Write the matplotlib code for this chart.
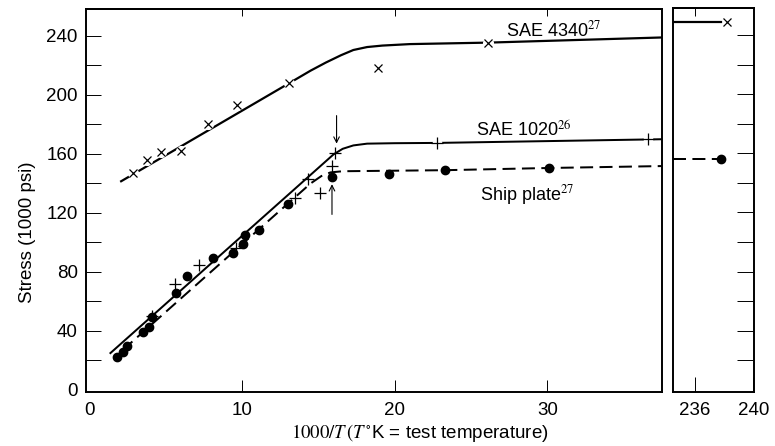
import matplotlib
matplotlib.use("Agg")
import matplotlib.pyplot as plt
from matplotlib.ticker import MultipleLocator

plt.rcParams['font.family'] = ['Liberation Sans', 'DejaVu Sans']
plt.rcParams['mathtext.fontset'] = 'stix'

# ---------------- data ----------------
# SAE 4340 (x markers) and its fitted curve
sae4340_x = [2.9, 3.8, 4.7, 6.0, 7.8, 9.7, 13.1, 18.9, 26.1]
sae4340_y = [147, 156, 161, 162, 180, 193, 208, 218, 235]
sae4340_curve_x = [2.1, 13.1, 14.5, 15.5, 16.5, 17.3, 18.2, 19.2, 21.0, 26.1, 37.5]
sae4340_curve_y = [141.5, 208, 216.5, 222, 227, 230.5, 232.5, 233.5, 234.5, 235.5, 239]

# SAE 1020 (+ markers) and its fitted curve
sae1020_x = [4.1, 5.6, 7.2, 9.6, 13.5, 14.3, 15.1, 15.9, 16.1, 22.8, 36.6]
sae1020_y = [50, 72, 85, 96, 130, 143, 133.5, 152, 160.7, 167.5, 170]
sae1020_curve_x = [1.4, 16.0, 16.6, 17.3, 18.2, 20.0, 22.8, 37.5]
sae1020_curve_y = [25, 159.7, 163.5, 165.8, 167, 167.3, 167.5, 170]

# Ship plate (filled circles) and its fitted curve
ship_x = [1.8, 2.2, 2.5, 3.5, 3.9, 4.1, 5.7, 6.4, 8.1, 9.4, 10.1, 10.2, 11.1,
          13.0, 15.9, 19.6, 23.3, 30.1]
ship_y = [22, 26, 30, 39, 43, 49.5, 66, 77, 89.5, 93, 99, 105, 108.5,
          126, 144.4, 146.4, 149, 150.5]
ship_curve_x = [2.2, 14.5, 15.2, 15.8, 16.6, 23.3, 30.1, 37.5]
ship_curve_y = [27, 140, 145, 147.5, 148.3, 149, 150.5, 151.8]

# Values plotted on the broken-off axis (1000/T near 238)
far_4340_x, far_4340_y = [238.2], [249]
far_4340_line_x = [234.5, 237.8]
far_ship_x, far_ship_y = [237.8], [156]
far_ship_line_x = [234.5, 237.8]

# Arrows marking the knee (x, y_from, y_to)
arrow_down = (16.2, 186, 167)
arrow_up = (15.9, 119, 139.5)

x_ticks_main = [0, 10, 20, 30]
x_ticks_far = [236, 240]
y_ticks = [0, 40, 80, 120, 160, 200, 240]

# ---------------- figure ----------------
W, H = 775, 446
fig = plt.figure(figsize=(W / 100, H / 100), dpi=100)
ax = fig.add_axes([86 / W, 1 - 392 / H, (662 - 86) / W, (392 - 9) / H])
ax2 = fig.add_axes([673 / W, 1 - 392 / H, (754 - 673) / W, (392 - 8) / H])

ax.set_xlim(-0.2, 37.5)
ax.set_ylim(-1.4, 258.3)
ax2.set_xlim(234.5, 240.05)
ax2.set_ylim(-1.4, 258.3)

dash = (0, (6.5, 3.2))
lw = 1.6

# SAE 4340
ax.plot(sae4340_curve_x, sae4340_curve_y, color='k', lw=lw, zorder=2)
ax.plot(sae4340_x, sae4340_y, 'o', ms=8, color='white', mec='none', zorder=3)
ax.plot(sae4340_x, sae4340_y, 'x', ms=6, mew=0.9, color='k', zorder=4)

# SAE 1020
ax.plot(sae1020_curve_x, sae1020_curve_y, color='k', lw=lw * 0.9, zorder=2)
ax.plot(sae1020_x[-2:], sae1020_y[-2:], 'o', ms=7, color='white', mec='none', zorder=3)
ax.plot(sae1020_x, sae1020_y, '+', ms=8, mew=0.9, color='k', zorder=4)

# Ship plate
ax.plot(ship_curve_x, ship_curve_y, color='k', lw=lw * 0.9, ls=dash, zorder=2)
ax.plot(ship_x, ship_y, 'o', ms=6, color='k', zorder=4)

# Arrows
for (xa, y0, y1) in (arrow_down, arrow_up):
    ax.annotate('', xy=(xa, y1), xytext=(xa, y0),
                arrowprops=dict(arrowstyle='->', lw=0.8, color='k',
                                shrinkA=0, shrinkB=0, mutation_scale=10))

# labels on curves
ax.text(27.3, 244, r'SAE 4340$^{27}$', fontsize=13, va='center', ha='left')
ax.text(25.3, 176, r'SAE 1020$^{26}$', fontsize=13, va='center', ha='left')
ax.text(25.6, 132, r'Ship plate$^{27}$', fontsize=13, va='center', ha='left')

# far panel
ax2.plot(far_4340_line_x, [far_4340_y[0]] * 2, color='k', lw=lw)
ax2.plot(far_4340_x, far_4340_y, 'x', ms=6, mew=0.9, color='k')
ax2.plot(far_ship_line_x, [far_ship_y[0]] * 2, color='k', lw=lw * 0.9, ls=dash)
ax2.plot(far_ship_x, far_ship_y, 'o', ms=6, color='k')

# ---------------- axes styling ----------------
for a in (ax, ax2):
    for s in a.spines.values():
        s.set_linewidth(1.4)

ax.set_xticks(x_ticks_main)
ax.set_yticks(y_ticks)
ax.yaxis.set_minor_locator(MultipleLocator(20))
ax.tick_params(axis='y', which='both', direction='in', length=11, width=0.7,
               labelsize=13.5, pad=6, right=False)
ax.tick_params(axis='x', which='both', direction='in', length=9, width=0.7,
               labelsize=13.5, pad=7, top=False)
ax.xaxis.get_major_ticks()[0].tick1line.set_visible(False)
ax.yaxis.get_major_ticks()[0].tick1line.set_visible(False)
top = ax.secondary_xaxis('top')
top.set_xticks([10, 20, 30])
top.tick_params(direction='in', length=5, width=0.7, labeltop=False)
top.spines['top'].set_linewidth(1.4)

ax2.set_xticks(x_ticks_far)
ax2.set_yticks(list(range(20, 241, 20)))
ax2.tick_params(axis='y', direction='in', length=12, width=0.7,
                left=False, right=True, labelleft=False, labelright=False)
ax2.tick_params(axis='x', direction='in', length=11, width=0.7,
                labelsize=13.5, pad=7, top=False)
top2 = ax2.secondary_xaxis('top')
top2.set_xticks([236])
top2.tick_params(direction='in', length=6, width=0.7, labeltop=False)
top2.spines['top'].set_linewidth(1.4)

fig.text(28 / W, 1 - 232 / H, 'Stress (1000 psi)', rotation=90,
         ha='center', va='center', fontsize=13.5)
fig.text(420 / W, 1 - 433 / H,
         r'$1000/T\,(T\,^{\circ}$K = test temperature)',
         ha='center', va='center', fontsize=13.5)

fig.savefig('out.png', dpi=100)
